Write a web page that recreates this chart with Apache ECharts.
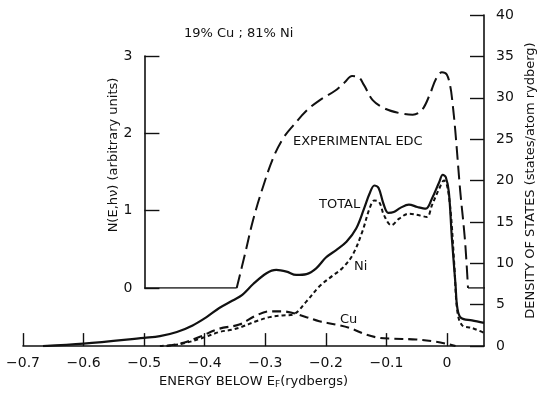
<!DOCTYPE html>
<html>
<head>
<meta charset="utf-8">
<script src="https://cdn.jsdelivr.net/npm/echarts@6/dist/echarts.min.js"></script>
<style>
html,body{margin:0;padding:0;background:#fff;}
#c{width:545px;height:394px;}
</style>
</head>
<body>
<div id="c"></div>
<script>
// ---- data (energy below E_F in rydbergs, DOS in states/atom rydberg) ----
var xTicks = [-0.7, -0.6, -0.5, -0.4, -0.3, -0.2, -0.1, 0];
var dosTicks = [0, 5, 10, 15, 20, 25, 30, 35, 40];
var edcTicks = [0, 1, 2, 3];

var totalDOS = [
  [-0.667,0],[-0.6,0.3],[-0.5,1.0],[-0.474,1.2],[-0.446,1.7],[-0.42,2.5],[-0.397,3.5],
  [-0.376,4.6],[-0.354,5.5],[-0.338,6.2],[-0.32,7.5],[-0.298,8.8],[-0.282,9.2],[-0.265,9.0],
  [-0.249,8.6],[-0.232,8.7],[-0.216,9.4],[-0.2,10.7],[-0.183,11.6],[-0.166,12.6],[-0.15,14.2],
  [-0.137,16.6],[-0.128,18.4],[-0.12,19.4],[-0.113,19.1],[-0.105,17.2],[-0.097,16.1],
  [-0.088,16.2],[-0.077,16.7],[-0.063,17.1],[-0.049,16.8],[-0.035,16.6],[-0.025,17.8],
  [-0.013,19.8],[-0.007,20.7],[-0.002,20.4],[0.003,18.6],[0.008,13.0],[0.014,7.4],
  [0.017,4.6],[0.023,3.4],[0.041,3.1],[0.061,2.8]
];
var niDOS = [
  [-0.474,0],[-0.44,0.25],[-0.403,1.0],[-0.376,1.7],[-0.354,2.0],[-0.34,2.3],[-0.315,3.0],
  [-0.293,3.5],[-0.272,3.7],[-0.255,3.8],[-0.232,5.4],[-0.211,7.2],[-0.189,8.5],[-0.173,9.4],
  [-0.156,11.0],[-0.14,13.8],[-0.128,16.6],[-0.12,17.6],[-0.112,17.4],[-0.104,15.8],
  [-0.092,14.6],[-0.079,15.4],[-0.063,16.0],[-0.046,15.8],[-0.033,15.6],[-0.025,17.0],
  [-0.013,19.0],[-0.005,20.0],[0.0,19.4],[0.006,16.2],[0.012,9.8],[0.017,4.2],[0.025,2.5],
  [0.041,2.2],[0.061,1.6]
];
var cuDOS = [
  [-0.463,0],[-0.435,0.4],[-0.409,1.1],[-0.376,2.1],[-0.343,2.6],[-0.315,3.7],[-0.293,4.2],
  [-0.272,4.2],[-0.255,4.0],[-0.232,3.5],[-0.211,3.0],[-0.183,2.6],[-0.161,2.2],[-0.134,1.4],
  [-0.112,1.0],[-0.09,0.9],[-0.051,0.8],[-0.025,0.6],[-0.002,0.3],[0.014,0]
];
var edcCurve = [
  [-0.348,0],[-0.334,0.45],[-0.321,0.88],[-0.305,1.3],[-0.288,1.68],[-0.272,1.93],[-0.255,2.1],
  [-0.232,2.3],[-0.211,2.43],[-0.186,2.55],[-0.17,2.66],[-0.158,2.74],[-0.148,2.73],
  [-0.138,2.62],[-0.124,2.43],[-0.104,2.32],[-0.079,2.26],[-0.058,2.24],[-0.043,2.3],
  [-0.03,2.5],[-0.02,2.7],[-0.01,2.79],[-0.002,2.76],[0.004,2.6],[0.007,2.43],[0.012,2.04],
  [0.02,1.27],[0.028,0.62],[0.033,0]
];
var edcBaseLeft = [[-0.5,0],[-0.348,0]];
var edcBaseRight = [[0.033,0],[0.061,0]];

var xMin = -0.7, xMax = 0.061, innerMin = -0.5;

// ---- layout ----
var FONT = 'DejaVu Sans';
var INK = '#111';
var gLeft = 23, gRight = 60, gTop = 15, gBottom = 46;
var plotW = 545 - gLeft - gRight;
var innerLeft = gLeft + (innerMin - xMin) / (xMax - xMin) * plotW;

function fmtX(v){
  if (Math.abs(v) < 1e-9) return '0';
  return (v < 0 ? '\u2212' : '') + Math.abs(v).toFixed(1);
}

var chart = echarts.init(document.getElementById('c'), null, {renderer:'canvas'});
chart.setOption({
  animation: false,
  backgroundColor: '#fff',
  textStyle: {fontFamily: FONT, color: INK},
  grid: [
    {left: gLeft, right: gRight, top: gTop, bottom: gBottom},
    {left: innerLeft, right: gRight, top: 56, bottom: 106}
  ],
  xAxis: [
    {
      type: 'value', gridIndex: 0, min: xMin, max: xMax, interval: 0.1,
      axisLine: {onZero: false, lineStyle: {color: INK, width: 1.6}},
      axisTick: {inside: true, length: 13, lineStyle: {color: INK, width: 1.4}},
      axisLabel: {color: INK, fontFamily: FONT, fontSize: 14, margin: 10,
        showMaxLabel: false, formatter: fmtX},
      splitLine: {show: false},
      name: 'ENERGY BELOW E{s|F}(rydbergs)', nameLocation: 'middle', nameGap: 27,
      nameTextStyle: {color: INK, fontFamily: FONT, fontSize: 13,
        rich: {s: {fontSize: 9, verticalAlign: 'bottom', padding: [6,0,0,0], fontFamily: FONT, color: INK}}}
    },
    {
      type: 'value', gridIndex: 1, min: innerMin, max: xMax, show: false
    }
  ],
  yAxis: [
    {
      type: 'value', gridIndex: 0, position: 'right', min: 0, max: 40, interval: 5,
      axisLine: {show: true, onZero: false, lineStyle: {color: INK, width: 1.6}},
      axisTick: {show: true, inside: true, length: 14, lineStyle: {color: INK, width: 1.4}},
      axisLabel: {color: INK, fontFamily: FONT, fontSize: 14, margin: 12},
      splitLine: {show: false},
      name: 'DENSITY OF STATES (states/atom rydberg)', nameLocation: 'middle',
      nameRotate: 90, nameGap: 40, nameMoveOverlap: false,
      nameTextStyle: {color: INK, fontFamily: FONT, fontSize: 13}
    },
    {
      type: 'value', gridIndex: 1, position: 'left', min: 0, max: 3, interval: 1,
      axisLine: {show: true, onZero: false, lineStyle: {color: INK, width: 1.6}},
      axisTick: {show: true, inside: true, length: 15, lineStyle: {color: INK, width: 1.4}},
      axisLabel: {color: INK, fontFamily: FONT, fontSize: 14, margin: 12},
      splitLine: {show: false},
      name: 'N(E,h\u03bd) (arbitrary units)', nameLocation: 'middle',
      nameRotate: 90, nameGap: 24, nameMoveOverlap: false,
      nameTextStyle: {color: INK, fontFamily: FONT, fontSize: 13, padding: [0,0,0,34]}
    }
  ],
  series: [
    {type: 'line', name: 'Total', xAxisIndex: 0, yAxisIndex: 0, data: totalDOS,
      showSymbol: false, smooth: 0.35,
      lineStyle: {color: INK, width: 2.2}},
    {type: 'line', name: 'Ni', xAxisIndex: 0, yAxisIndex: 0, data: niDOS,
      showSymbol: false, smooth: 0.35,
      lineStyle: {color: INK, width: 2, type: [4, 3]}},
    {type: 'line', name: 'Cu', xAxisIndex: 0, yAxisIndex: 0, data: cuDOS,
      showSymbol: false, smooth: 0.35,
      lineStyle: {color: INK, width: 2.1, type: [9, 5]}},
    {type: 'line', name: 'EDC', xAxisIndex: 1, yAxisIndex: 1, data: edcCurve,
      showSymbol: false, smooth: 0.35,
      lineStyle: {color: INK, width: 2, type: [14, 6]}},
    {type: 'line', name: 'EDC base L', xAxisIndex: 1, yAxisIndex: 1, data: edcBaseLeft,
      showSymbol: false, lineStyle: {color: INK, width: 1.6}},
    {type: 'line', name: 'EDC base R', xAxisIndex: 1, yAxisIndex: 1, data: edcBaseRight,
      showSymbol: false, lineStyle: {color: INK, width: 1.6}}
  ],
  graphic: [
    {type: 'text', left: 184, top: 27, style: {text: '19% Cu ; 81% Ni', font: '13px "DejaVu Sans"', fill: INK}},
    {type: 'text', left: 293, top: 135, style: {text: 'EXPERIMENTAL EDC', font: '13px "DejaVu Sans"', fill: INK}},
    {type: 'text', left: 319, top: 198, style: {text: 'TOTAL', font: '13px "DejaVu Sans"', fill: INK}},
    {type: 'text', left: 354, top: 260, style: {text: 'Ni', font: '13px "DejaVu Sans"', fill: INK}},
    {type: 'text', left: 340, top: 313, style: {text: 'Cu', font: '13px "DejaVu Sans"', fill: INK}}
  ]
});
</script>
</body>
</html>
